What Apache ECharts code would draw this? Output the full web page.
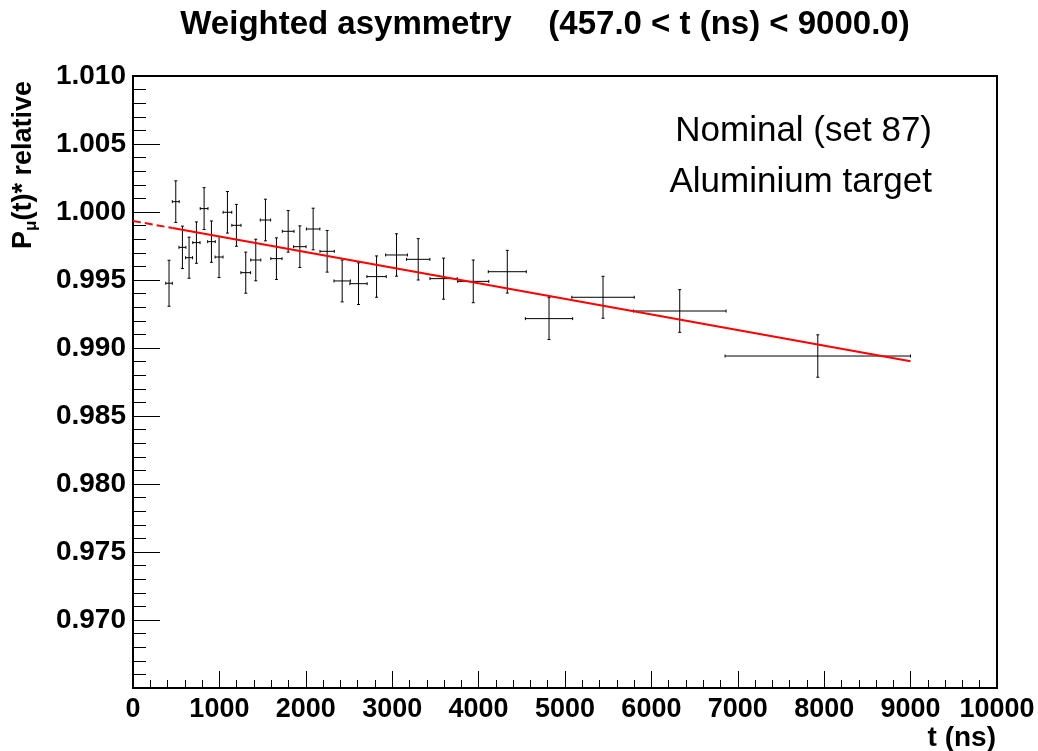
<!DOCTYPE html>
<html><head><meta charset="utf-8">
<script src="https://cdn.jsdelivr.net/npm/echarts@6/dist/echarts.min.js"></script>
<style>html,body{margin:0;padding:0;background:#fff}#c{width:1038px;height:751px}</style>
</head><body><div id="c"></div><script>
// Data
const tValues = [417,495,572,649,734,823,908,996,1093,1197,1305,1421,1533,1660,1796,1931,2085,2247,2421,2610,2819,3050,3301,3595,3938,4332,4815,5440,6328,7926];
const tErrors = [38,40,40,40,42,45,44,46,50,53,56,58,60,65,68,72,78,83,95,100,112,126,135,158,180,220,274,361,536,1073];
const pValues = [0.99476,1.00076,0.99740,0.99664,0.99775,1.00025,0.99782,0.99669,0.99998,0.99902,0.99554,0.99647,0.99941,0.99657,0.99858,0.99745,0.99875,0.99711,0.99493,0.99473,0.99525,0.99684,0.99652,0.99510,0.99490,0.99561,0.99216,0.99373,0.99272,0.98941];
const pErrors = [0.00169,0.00153,0.00156,0.00151,0.00152,0.00154,0.00152,0.00151,0.00153,0.00154,0.00151,0.00153,0.00153,0.00153,0.00153,0.00153,0.00153,0.00153,0.00154,0.00153,0.00152,0.00156,0.00152,0.00151,0.00157,0.00157,0.00154,0.00154,0.00157,0.00156];
const fitDashed = [[0, 0.99934], [457, 0.99882]];
const fitSolid = [[457, 0.99882], [9000, 0.98902]];
const titleText = 'Weighted asymmetry    (457.0 < t (ns) < 9000.0)';
const xTitle = 't (ns)';
const notes = ['Nominal (set 87)', 'Aluminium target'];

const FF = '"Liberation Sans", Arial, Helvetica, sans-serif';
const chart = echarts.init(document.getElementById('c'), null, {renderer: 'canvas'});
const errData = tValues.map((t, i) => [t, pValues[i], tErrors[i], pErrors[i]]);

function renderErr(params, api) {
  const t = api.value(0), p = api.value(1), te = api.value(2), pe = api.value(3);
  const c = api.coord([t, p]);
  const l = api.coord([t - te, p]);
  const r = api.coord([t + te, p]);
  const top = api.coord([t, p + pe]);
  const bot = api.coord([t, p - pe]);
  const st = {stroke: '#000', lineWidth: 1};
  const cap = 1.5;
  return {type: 'group', children: [
    {type: 'line', shape: {x1: l[0], y1: c[1], x2: r[0], y2: c[1]}, style: st},
    {type: 'line', shape: {x1: c[0], y1: top[1], x2: c[0], y2: bot[1]}, style: st},
    {type: 'line', shape: {x1: c[0] - cap, y1: top[1], x2: c[0] + cap, y2: top[1]}, style: st},
    {type: 'line', shape: {x1: c[0] - cap, y1: bot[1], x2: c[0] + cap, y2: bot[1]}, style: st},
    {type: 'line', shape: {x1: l[0], y1: c[1] - cap, x2: l[0], y2: c[1] + cap}, style: st},
    {type: 'line', shape: {x1: r[0], y1: c[1] - cap, x2: r[0], y2: c[1] + cap}, style: st}
  ]};
}

const option = {
  animation: false,
  backgroundColor: '#fff',
  grid: {left: 133, top: 76, right: 41, bottom: 63, show: true, borderColor: '#000', borderWidth: 2, backgroundColor: 'transparent'},
  xAxis: {
    type: 'value', min: 0, max: 10000, interval: 1000,
    axisLine: {show: false},
    splitLine: {show: false},
    axisTick: {show: true, inside: true, length: 17, lineStyle: {color: '#000', width: 1}},
    minorTick: {show: true, splitNumber: 5, length: 8, lineStyle: {color: '#000', width: 1}},
    axisLabel: {color: '#000', fontFamily: FF, fontSize: 27, fontWeight: 'bold', margin: 8, formatter: v => String(Math.round(v))}
  },
  yAxis: {
    type: 'value', min: 0.965, max: 1.010, interval: 0.005,
    axisLine: {show: false},
    splitLine: {show: false},
    axisTick: {show: true, inside: true, length: 27, lineStyle: {color: '#000', width: 1}},
    minorTick: {show: true, splitNumber: 5, length: 13, lineStyle: {color: '#000', width: 1}},
    axisLabel: {color: '#000', fontFamily: FF, fontSize: 28, fontWeight: 'bold', margin: 7,
      formatter: v => (v < 0.9675 ? '' : v.toFixed(3))}
  },
  series: [
    {type: 'custom', data: errData, renderItem: renderErr, encode: {x: 0, y: 1}, z: 2, clip: true, silent: true},
    {type: 'line', data: fitDashed, symbol: 'none', z: 3, silent: true, lineStyle: {color: '#ff0000', width: 2, type: [8, 4]}},
    {type: 'line', data: fitSolid, symbol: 'none', z: 3, silent: true, lineStyle: {color: '#ff0000', width: 2}}
  ],
  graphic: [
    {type: 'text', x: 545, y: 25, style: {text: titleText, font: 'bold 33px ' + FF, fill: '#000', textAlign: 'center', textVerticalAlign: 'middle'}},
    {type: 'text', x: 932, y: 131, style: {text: notes[0], font: '35px ' + FF, fill: '#000', textAlign: 'right', textVerticalAlign: 'middle'}},
    {type: 'text', x: 932, y: 182, style: {text: notes[1], font: '35px ' + FF, fill: '#000', textAlign: 'right', textVerticalAlign: 'middle'}},
    {type: 'text', x: 996, y: 738, style: {text: xTitle, font: 'bold 28px ' + FF, fill: '#000', textAlign: 'right', textVerticalAlign: 'middle'}},
    {type: 'text', x: 24, y: 81, rotation: Math.PI / 2, style: {
      text: '{b|P}{s|μ}{b|(t)* relative}', textAlign: 'right', textVerticalAlign: 'middle', fill: '#000',
      rich: {
        b: {font: 'bold 27px ' + FF, fill: '#000', lineHeight: 32, verticalAlign: 'middle'},
        s: {font: 'bold 17px ' + FF, fill: '#000', lineHeight: 32, verticalAlign: 'bottom'}
      }
    }}
  ]
};
chart.setOption(option);
</script></body></html>
